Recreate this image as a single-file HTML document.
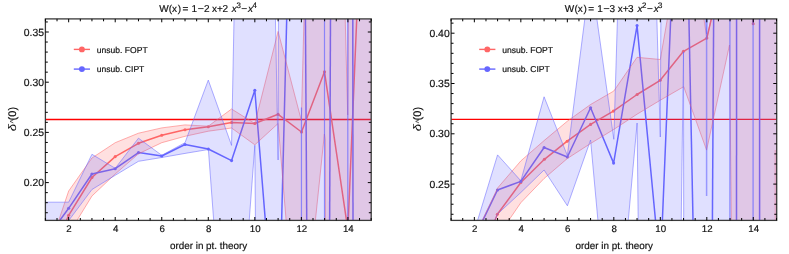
<!DOCTYPE html>
<html><head><meta charset="utf-8"><title>plots</title>
<style>
html,body{margin:0;padding:0;background:#fff;}
body{width:789px;height:254px;overflow:hidden;}
svg{display:block;}
text{stroke:#111;stroke-width:0.18px;}
svg{text-rendering:geometricPrecision;opacity:0.999;will-change:transform;font-family:"Liberation Sans",sans-serif;}
</style></head><body>
<svg width="789" height="254" viewBox="0 0 789 254">
<rect width="789" height="254" fill="#fff"/>
<clipPath id="c1"><rect x="45.4" y="18.9" width="325.8" height="201.5"/></clipPath><g clip-path="url(#c1)"><line x1="45.4" x2="371.2" y1="119.5" y2="119.5" stroke="#ff0000" stroke-width="1.3"/><polyline points="45.40,270.00 68.67,215.30 91.94,177.50 115.21,156.60 138.48,143.30 161.75,135.30 185.02,129.70 208.29,126.70 231.56,122.50 254.83,123.50 278.10,114.30 301.50,132.00 324.50,71.80 347.90,230.00 357.10,10.00" fill="none" stroke="#ff6666" stroke-width="1.5" stroke-opacity="1" stroke-linejoin="round"/><circle cx="45.40" cy="270.00" r="1.55" fill="#ff6666"/><circle cx="68.67" cy="215.30" r="1.55" fill="#ff6666"/><circle cx="91.94" cy="177.50" r="1.55" fill="#ff6666"/><circle cx="115.21" cy="156.60" r="1.55" fill="#ff6666"/><circle cx="138.48" cy="143.30" r="1.55" fill="#ff6666"/><circle cx="161.75" cy="135.30" r="1.55" fill="#ff6666"/><circle cx="185.02" cy="129.70" r="1.55" fill="#ff6666"/><circle cx="208.29" cy="126.70" r="1.55" fill="#ff6666"/><circle cx="231.56" cy="122.50" r="1.55" fill="#ff6666"/><circle cx="254.83" cy="123.50" r="1.55" fill="#ff6666"/><circle cx="278.10" cy="114.30" r="1.55" fill="#ff6666"/><circle cx="301.50" cy="132.00" r="1.55" fill="#ff6666"/><circle cx="324.50" cy="71.80" r="1.55" fill="#ff6666"/><circle cx="347.90" cy="230.00" r="1.55" fill="#ff6666"/><circle cx="357.10" cy="10.00" r="1.55" fill="#ff6666"/><polyline points="45.40,240.00 68.67,208.30 91.94,174.00 115.21,168.70 138.48,152.60 161.75,156.00 185.02,144.50 208.29,149.00 231.56,160.60 254.83,90.30 266.10,230.00" fill="none" stroke="#6666ff" stroke-width="1.5" stroke-opacity="1" stroke-linejoin="round"/><circle cx="45.40" cy="240.00" r="1.55" fill="#6666ff"/><circle cx="68.67" cy="208.30" r="1.55" fill="#6666ff"/><circle cx="91.94" cy="174.00" r="1.55" fill="#6666ff"/><circle cx="115.21" cy="168.70" r="1.55" fill="#6666ff"/><circle cx="138.48" cy="152.60" r="1.55" fill="#6666ff"/><circle cx="161.75" cy="156.00" r="1.55" fill="#6666ff"/><circle cx="185.02" cy="144.50" r="1.55" fill="#6666ff"/><circle cx="208.29" cy="149.00" r="1.55" fill="#6666ff"/><circle cx="231.56" cy="160.60" r="1.55" fill="#6666ff"/><circle cx="254.83" cy="90.30" r="1.55" fill="#6666ff"/><circle cx="266.10" cy="230.00" r="1.55" fill="#6666ff"/><polyline points="281.40,230.00 286.80,15.00" fill="none" stroke="#6666ff" stroke-width="1.5" stroke-opacity="1" stroke-linejoin="round"/><circle cx="281.40" cy="230.00" r="1.55" fill="#6666ff"/><circle cx="286.80" cy="15.00" r="1.55" fill="#6666ff"/><polyline points="305.40,15.00 306.80,230.00" fill="none" stroke="#6666ff" stroke-width="1.5" stroke-opacity="1" stroke-linejoin="round"/><circle cx="305.40" cy="15.00" r="1.55" fill="#6666ff"/><circle cx="306.80" cy="230.00" r="1.55" fill="#6666ff"/><polyline points="330.50,15.00 329.60,230.00" fill="none" stroke="#6666ff" stroke-width="1.5" stroke-opacity="1" stroke-linejoin="round"/><circle cx="330.50" cy="15.00" r="1.55" fill="#6666ff"/><circle cx="329.60" cy="230.00" r="1.55" fill="#6666ff"/><polyline points="352.80,15.00 353.00,230.00" fill="none" stroke="#6666ff" stroke-width="1.5" stroke-opacity="1" stroke-linejoin="round"/><circle cx="352.80" cy="15.00" r="1.55" fill="#6666ff"/><circle cx="353.00" cy="230.00" r="1.55" fill="#6666ff"/><polygon points="45.40,260.00 68.67,191.00 91.94,158.00 115.21,142.70 138.48,133.20 161.75,127.90 185.02,124.90 208.29,126.20 231.56,109.00 254.83,123.50 278.10,31.40 301.37,120.50 304.20,10.00 345.00,10.00 347.70,115.00 348.30,10.00 380.00,10.00 380.00,230.00 325.40,230.00 325.30,140.00 324.40,134.00 314.40,230.00 286.90,230.00 278.10,123.50 254.83,144.80 231.56,128.00 208.29,131.20 185.02,136.30 161.75,142.70 138.48,153.80 115.21,174.00 91.94,196.00 68.67,234.00 45.40,290.00" fill="#ff6666" fill-opacity="0.2" stroke="#ff6666" stroke-opacity="0.85" stroke-width="0.62" stroke-linejoin="round"/><polygon points="45.40,202.20 68.67,202.20 91.94,154.30 115.21,168.30 138.48,138.20 161.75,155.30 185.02,142.70 208.29,80.10 231.56,145.40 234.20,10.00 275.30,10.00 278.10,160.00 278.45,10.00 380.00,10.00 380.00,230.00 255.50,230.00 254.83,145.30 248.50,230.00 214.40,230.00 208.40,149.50 185.02,153.40 161.75,157.50 138.48,161.30 115.21,175.30 91.94,189.50 68.67,220.60 45.40,235.00" fill="#6666ff" fill-opacity="0.2" stroke="#6666ff" stroke-opacity="0.85" stroke-width="0.62" stroke-linejoin="round"/><polyline points="301.45,107.50 301.45,230.00" fill="none" stroke="#6666ff" stroke-width="1.2" stroke-opacity="0.7" stroke-linejoin="round"/><polyline points="324.50,10.00 324.50,230.00" fill="none" stroke="#6666ff" stroke-width="1.2" stroke-opacity="0.7" stroke-linejoin="round"/><polyline points="347.80,10.00 347.80,230.00" fill="none" stroke="#6666ff" stroke-width="1.2" stroke-opacity="0.7" stroke-linejoin="round"/></g><rect x="45.4" y="18.9" width="325.8" height="201.5" fill="none" stroke="#3a3a3a" stroke-width="1.3"/><g stroke="#000" stroke-width="1" fill="none"><path d="M68.67 220.4v-3.4M68.67 18.9v3.4"/><path d="M115.21 220.4v-3.4M115.21 18.9v3.4"/><path d="M161.75 220.4v-3.4M161.75 18.9v3.4"/><path d="M208.29 220.4v-3.4M208.29 18.9v3.4"/><path d="M254.83 220.4v-3.4M254.83 18.9v3.4"/><path d="M301.37 220.4v-3.4M301.37 18.9v3.4"/><path d="M347.91 220.4v-3.4M347.91 18.9v3.4"/><path d="M45.40 220.4v-2.4M45.40 18.9v2.4"/><path d="M57.03 220.4v-2.4M57.03 18.9v2.4"/><path d="M80.31 220.4v-2.4M80.31 18.9v2.4"/><path d="M91.94 220.4v-2.4M91.94 18.9v2.4"/><path d="M103.57 220.4v-2.4M103.57 18.9v2.4"/><path d="M126.84 220.4v-2.4M126.84 18.9v2.4"/><path d="M138.48 220.4v-2.4M138.48 18.9v2.4"/><path d="M150.12 220.4v-2.4M150.12 18.9v2.4"/><path d="M173.38 220.4v-2.4M173.38 18.9v2.4"/><path d="M185.02 220.4v-2.4M185.02 18.9v2.4"/><path d="M196.66 220.4v-2.4M196.66 18.9v2.4"/><path d="M219.93 220.4v-2.4M219.93 18.9v2.4"/><path d="M231.56 220.4v-2.4M231.56 18.9v2.4"/><path d="M243.19 220.4v-2.4M243.19 18.9v2.4"/><path d="M266.46 220.4v-2.4M266.46 18.9v2.4"/><path d="M278.10 220.4v-2.4M278.10 18.9v2.4"/><path d="M289.74 220.4v-2.4M289.74 18.9v2.4"/><path d="M313.00 220.4v-2.4M313.00 18.9v2.4"/><path d="M324.64 220.4v-2.4M324.64 18.9v2.4"/><path d="M336.27 220.4v-2.4M336.27 18.9v2.4"/><path d="M359.54 220.4v-2.4M359.54 18.9v2.4"/><path d="M371.18 220.4v-2.4M371.18 18.9v2.4"/><path d="M45.4 182.60h3.4M371.2 182.60h-3.4"/><path d="M45.4 132.40h3.4M371.2 132.40h-3.4"/><path d="M45.4 82.20h3.4M371.2 82.20h-3.4"/><path d="M45.4 32.00h3.4M371.2 32.00h-3.4"/><path d="M45.4 212.72h2.4M371.2 212.72h-2.4"/><path d="M45.4 202.68h2.4M371.2 202.68h-2.4"/><path d="M45.4 192.64h2.4M371.2 192.64h-2.4"/><path d="M45.4 172.56h2.4M371.2 172.56h-2.4"/><path d="M45.4 162.52h2.4M371.2 162.52h-2.4"/><path d="M45.4 152.48h2.4M371.2 152.48h-2.4"/><path d="M45.4 142.44h2.4M371.2 142.44h-2.4"/><path d="M45.4 122.36h2.4M371.2 122.36h-2.4"/><path d="M45.4 112.32h2.4M371.2 112.32h-2.4"/><path d="M45.4 102.28h2.4M371.2 102.28h-2.4"/><path d="M45.4 92.24h2.4M371.2 92.24h-2.4"/><path d="M45.4 72.16h2.4M371.2 72.16h-2.4"/><path d="M45.4 62.12h2.4M371.2 62.12h-2.4"/><path d="M45.4 52.08h2.4M371.2 52.08h-2.4"/><path d="M45.4 42.04h2.4M371.2 42.04h-2.4"/><path d="M45.4 21.96h2.4M371.2 21.96h-2.4"/></g><g font-size="9.7px" fill="#111"><text x="69.07" y="231.9" text-anchor="middle">2</text><text x="115.61" y="231.9" text-anchor="middle">4</text><text x="162.15" y="231.9" text-anchor="middle">6</text><text x="208.69" y="231.9" text-anchor="middle">8</text><text x="255.23" y="231.9" text-anchor="middle">10</text><text x="301.77" y="231.9" text-anchor="middle">12</text><text x="348.31" y="231.9" text-anchor="middle">14</text><text x="44.00" y="186.20" text-anchor="end" font-size="10.4px">0.20</text><text x="44.00" y="136.00" text-anchor="end" font-size="10.4px">0.25</text><text x="44.00" y="85.80" text-anchor="end" font-size="10.4px">0.30</text><text x="44.00" y="35.60" text-anchor="end" font-size="10.4px">0.35</text></g><text x="208.60" y="248.9" text-anchor="middle" font-size="9.9px" fill="#111">order in pt. theory</text><g font-size="10.0px" fill="#111"><text x="159.16" y="11.55">W</text><text x="168.80" y="11.55">(</text><text x="172.00" y="11.55">x</text><text x="177.75" y="11.55">)</text><text x="182.60" y="11.55">=</text><text x="191.55" y="11.55">1</text><text x="203.90" y="11.55">2</text><text x="212.10" y="11.55">x</text><text x="217.00" y="11.55">+</text><text x="222.40" y="11.55">2</text><text x="231.70" y="11.55" font-style="italic">x</text><text x="248.00" y="11.55" font-style="italic">x</text><text x="236.40" y="8.35" font-size="7.9px">3</text><text x="252.40" y="8.35" font-size="7.9px">4</text><rect x="198.10" y="8.25" width="5.5" height="0.8"/><rect x="241.60" y="8.25" width="5.2" height="0.8"/></g><g fill="#111" font-size="11px"><text transform="translate(15.60,131.3) rotate(-90) scale(1.2,1)" font-style="italic" style="stroke-width:0">δ</text><text transform="translate(15.60,120.4) rotate(-90)">(0)</text><polyline points="13.30,119.9 10.00,121.4 13.30,122.9" fill="none" stroke="#222" stroke-width="0.7"/></g><line x1="73.8" x2="90.0" y1="49.4" y2="49.4" stroke="#ff6666" stroke-width="1.4"/><circle cx="81.89999999999999" cy="49.4" r="2.95" fill="#ff6666"/><line x1="73.8" x2="90.0" y1="69.1" y2="69.1" stroke="#6666ff" stroke-width="1.4"/><circle cx="81.89999999999999" cy="69.1" r="2.95" fill="#6666ff"/><text x="96.80" y="52.6" font-size="8.55px" fill="#111">unsub. FOPT</text><text x="96.80" y="72.3" font-size="8.55px" fill="#111">unsub. CIPT</text><clipPath id="c2"><rect x="451.1" y="18.9" width="325.6" height="201.5"/></clipPath><g clip-path="url(#c2)"><line x1="451.1" x2="776.7" y1="119.4" y2="119.4" stroke="#ff0000" stroke-width="1.3"/><polyline points="451.10,330.00 474.35,272.00 497.40,214.30 520.80,182.50 544.40,159.30 567.20,141.20 590.60,124.40 613.40,111.10 637.10,94.50 660.20,80.30 683.50,51.30 706.85,38.10 713.40,10.00" fill="none" stroke="#ff6666" stroke-width="1.5" stroke-opacity="1" stroke-linejoin="round"/><circle cx="451.10" cy="330.00" r="1.55" fill="#ff6666"/><circle cx="474.35" cy="272.00" r="1.55" fill="#ff6666"/><circle cx="497.40" cy="214.30" r="1.55" fill="#ff6666"/><circle cx="520.80" cy="182.50" r="1.55" fill="#ff6666"/><circle cx="544.40" cy="159.30" r="1.55" fill="#ff6666"/><circle cx="567.20" cy="141.20" r="1.55" fill="#ff6666"/><circle cx="590.60" cy="124.40" r="1.55" fill="#ff6666"/><circle cx="613.40" cy="111.10" r="1.55" fill="#ff6666"/><circle cx="637.10" cy="94.50" r="1.55" fill="#ff6666"/><circle cx="660.20" cy="80.30" r="1.55" fill="#ff6666"/><circle cx="683.50" cy="51.30" r="1.55" fill="#ff6666"/><circle cx="706.85" cy="38.10" r="1.55" fill="#ff6666"/><circle cx="713.40" cy="10.00" r="1.55" fill="#ff6666"/><polyline points="752.90,10.00 753.20,23.80 753.50,10.00" fill="none" stroke="#ff6666" stroke-width="1.5" stroke-opacity="1" stroke-linejoin="round"/><circle cx="752.90" cy="10.00" r="1.55" fill="#ff6666"/><circle cx="753.20" cy="23.80" r="1.55" fill="#ff6666"/><circle cx="753.50" cy="10.00" r="1.55" fill="#ff6666"/><polyline points="451.10,290.00 474.35,237.90 497.50,190.00 520.80,181.40 544.10,147.50 567.35,157.00 590.60,107.70 613.60,163.10 637.05,25.60 660.30,271.00 671.05,10.00" fill="none" stroke="#6666ff" stroke-width="1.5" stroke-opacity="1" stroke-linejoin="round"/><circle cx="451.10" cy="290.00" r="1.55" fill="#6666ff"/><circle cx="474.35" cy="237.90" r="1.55" fill="#6666ff"/><circle cx="497.50" cy="190.00" r="1.55" fill="#6666ff"/><circle cx="520.80" cy="181.40" r="1.55" fill="#6666ff"/><circle cx="544.10" cy="147.50" r="1.55" fill="#6666ff"/><circle cx="567.35" cy="157.00" r="1.55" fill="#6666ff"/><circle cx="590.60" cy="107.70" r="1.55" fill="#6666ff"/><circle cx="613.60" cy="163.10" r="1.55" fill="#6666ff"/><circle cx="637.05" cy="25.60" r="1.55" fill="#6666ff"/><circle cx="660.30" cy="271.00" r="1.55" fill="#6666ff"/><circle cx="671.05" cy="10.00" r="1.55" fill="#6666ff"/><polyline points="688.75,10.00 693.20,230.00" fill="none" stroke="#6666ff" stroke-width="1.5" stroke-opacity="1" stroke-linejoin="round"/><circle cx="688.75" cy="10.00" r="1.55" fill="#6666ff"/><circle cx="693.20" cy="230.00" r="1.55" fill="#6666ff"/><polyline points="713.70,10.00 712.35,230.00" fill="none" stroke="#6666ff" stroke-width="1.5" stroke-opacity="1" stroke-linejoin="round"/><circle cx="713.70" cy="10.00" r="1.55" fill="#6666ff"/><circle cx="712.35" cy="230.00" r="1.55" fill="#6666ff"/><polyline points="736.60,10.00 736.50,230.00" fill="none" stroke="#6666ff" stroke-width="1.5" stroke-opacity="1" stroke-linejoin="round"/><circle cx="736.60" cy="10.00" r="1.55" fill="#6666ff"/><circle cx="736.50" cy="230.00" r="1.55" fill="#6666ff"/><polyline points="759.60,10.00 759.60,230.00" fill="none" stroke="#6666ff" stroke-width="1.5" stroke-opacity="1" stroke-linejoin="round"/><circle cx="759.60" cy="10.00" r="1.55" fill="#6666ff"/><circle cx="759.60" cy="230.00" r="1.55" fill="#6666ff"/><polygon points="451.10,290.00 474.35,237.00 497.59,188.00 520.84,160.90 544.08,140.60 567.33,121.20 590.57,104.50 613.82,91.00 637.06,57.30 660.31,59.50 668.90,10.00 702.60,10.00 706.80,38.00 713.40,10.00 790.00,10.00 790.00,230.00 731.40,230.00 729.50,45.00 706.60,150.10 683.70,86.70 660.31,100.20 637.06,114.20 613.82,129.40 590.57,143.50 567.33,158.50 544.08,178.50 520.84,202.70 497.59,236.60 474.35,290.00 451.10,340.00" fill="#ff6666" fill-opacity="0.2" stroke="#ff6666" stroke-opacity="0.85" stroke-width="0.62" stroke-linejoin="round"/><polyline points="775.20,150.00 775.20,230.00" fill="none" stroke="#ff6666" stroke-width="0.6" stroke-opacity="0.7" stroke-linejoin="round"/><polygon points="451.10,300.00 474.35,231.00 497.59,154.90 520.84,180.80 544.08,96.80 567.33,155.50 590.57,-26.00 613.82,139.30 617.70,10.00 656.60,10.00 660.31,137.00 660.90,10.00 704.50,10.00 706.60,34.00 707.50,10.00 790.00,10.00 790.00,230.00 683.70,230.00 683.50,52.00 681.10,230.00 638.30,230.00 637.10,123.00 627.40,230.00 598.80,230.00 590.57,140.00 567.40,205.80 544.08,170.00 520.84,192.50 497.59,214.00 474.35,270.00 451.10,330.00" fill="#6666ff" fill-opacity="0.2" stroke="#6666ff" stroke-opacity="0.85" stroke-width="0.62" stroke-linejoin="round"/><polyline points="706.60,10.00 706.60,196.00" fill="none" stroke="#6666ff" stroke-width="1.5" stroke-opacity="0.6" stroke-linejoin="round"/><polyline points="729.90,10.00 729.90,230.00" fill="none" stroke="#6666ff" stroke-width="1.5" stroke-opacity="0.6" stroke-linejoin="round"/><polyline points="753.10,10.00 753.10,230.00" fill="none" stroke="#6666ff" stroke-width="1.5" stroke-opacity="0.6" stroke-linejoin="round"/></g><rect x="451.1" y="18.9" width="325.6" height="201.5" fill="none" stroke="#3a3a3a" stroke-width="1.3"/><g stroke="#000" stroke-width="1" fill="none"><path d="M474.35 220.4v-3.4M474.35 18.9v3.4"/><path d="M520.84 220.4v-3.4M520.84 18.9v3.4"/><path d="M567.33 220.4v-3.4M567.33 18.9v3.4"/><path d="M613.82 220.4v-3.4M613.82 18.9v3.4"/><path d="M660.31 220.4v-3.4M660.31 18.9v3.4"/><path d="M706.80 220.4v-3.4M706.80 18.9v3.4"/><path d="M753.29 220.4v-3.4M753.29 18.9v3.4"/><path d="M451.10 220.4v-2.4M451.10 18.9v2.4"/><path d="M462.72 220.4v-2.4M462.72 18.9v2.4"/><path d="M485.97 220.4v-2.4M485.97 18.9v2.4"/><path d="M497.59 220.4v-2.4M497.59 18.9v2.4"/><path d="M509.21 220.4v-2.4M509.21 18.9v2.4"/><path d="M532.46 220.4v-2.4M532.46 18.9v2.4"/><path d="M544.08 220.4v-2.4M544.08 18.9v2.4"/><path d="M555.70 220.4v-2.4M555.70 18.9v2.4"/><path d="M578.95 220.4v-2.4M578.95 18.9v2.4"/><path d="M590.57 220.4v-2.4M590.57 18.9v2.4"/><path d="M602.19 220.4v-2.4M602.19 18.9v2.4"/><path d="M625.44 220.4v-2.4M625.44 18.9v2.4"/><path d="M637.06 220.4v-2.4M637.06 18.9v2.4"/><path d="M648.68 220.4v-2.4M648.68 18.9v2.4"/><path d="M671.93 220.4v-2.4M671.93 18.9v2.4"/><path d="M683.55 220.4v-2.4M683.55 18.9v2.4"/><path d="M695.17 220.4v-2.4M695.17 18.9v2.4"/><path d="M718.42 220.4v-2.4M718.42 18.9v2.4"/><path d="M730.04 220.4v-2.4M730.04 18.9v2.4"/><path d="M741.66 220.4v-2.4M741.66 18.9v2.4"/><path d="M764.91 220.4v-2.4M764.91 18.9v2.4"/><path d="M776.53 220.4v-2.4M776.53 18.9v2.4"/><path d="M451.1 184.10h3.4M776.7 184.10h-3.4"/><path d="M451.1 133.80h3.4M776.7 133.80h-3.4"/><path d="M451.1 83.50h3.4M776.7 83.50h-3.4"/><path d="M451.1 33.20h3.4M776.7 33.20h-3.4"/><path d="M451.1 214.28h2.4M776.7 214.28h-2.4"/><path d="M451.1 204.22h2.4M776.7 204.22h-2.4"/><path d="M451.1 194.16h2.4M776.7 194.16h-2.4"/><path d="M451.1 174.04h2.4M776.7 174.04h-2.4"/><path d="M451.1 163.98h2.4M776.7 163.98h-2.4"/><path d="M451.1 153.92h2.4M776.7 153.92h-2.4"/><path d="M451.1 143.86h2.4M776.7 143.86h-2.4"/><path d="M451.1 123.74h2.4M776.7 123.74h-2.4"/><path d="M451.1 113.68h2.4M776.7 113.68h-2.4"/><path d="M451.1 103.62h2.4M776.7 103.62h-2.4"/><path d="M451.1 93.56h2.4M776.7 93.56h-2.4"/><path d="M451.1 73.44h2.4M776.7 73.44h-2.4"/><path d="M451.1 63.38h2.4M776.7 63.38h-2.4"/><path d="M451.1 53.32h2.4M776.7 53.32h-2.4"/><path d="M451.1 43.26h2.4M776.7 43.26h-2.4"/><path d="M451.1 23.14h2.4M776.7 23.14h-2.4"/></g><g font-size="9.7px" fill="#111"><text x="474.75" y="231.9" text-anchor="middle">2</text><text x="521.24" y="231.9" text-anchor="middle">4</text><text x="567.73" y="231.9" text-anchor="middle">6</text><text x="614.22" y="231.9" text-anchor="middle">8</text><text x="660.71" y="231.9" text-anchor="middle">10</text><text x="707.20" y="231.9" text-anchor="middle">12</text><text x="753.69" y="231.9" text-anchor="middle">14</text><text x="449.70" y="187.70" text-anchor="end" font-size="10.4px">0.25</text><text x="449.70" y="137.40" text-anchor="end" font-size="10.4px">0.30</text><text x="449.70" y="87.10" text-anchor="end" font-size="10.4px">0.35</text><text x="449.70" y="36.80" text-anchor="end" font-size="10.4px">0.40</text></g><text x="614.20" y="248.9" text-anchor="middle" font-size="9.9px" fill="#111">order in pt. theory</text><g font-size="10.0px" fill="#111"><text x="564.86" y="11.55">W</text><text x="574.50" y="11.55">(</text><text x="577.70" y="11.55">x</text><text x="583.45" y="11.55">)</text><text x="588.30" y="11.55">=</text><text x="597.25" y="11.55">1</text><text x="609.60" y="11.55">3</text><text x="617.80" y="11.55">x</text><text x="622.70" y="11.55">+</text><text x="628.10" y="11.55">3</text><text x="637.40" y="11.55" font-style="italic">x</text><text x="653.70" y="11.55" font-style="italic">x</text><text x="642.10" y="8.35" font-size="7.9px">2</text><text x="658.10" y="8.35" font-size="7.9px">3</text><rect x="603.80" y="8.25" width="5.5" height="0.8"/><rect x="647.30" y="8.25" width="5.2" height="0.8"/></g><g fill="#111" font-size="11px"><text transform="translate(421.30,131.3) rotate(-90) scale(1.2,1)" font-style="italic" style="stroke-width:0">δ</text><text transform="translate(421.30,120.4) rotate(-90)">(0)</text><polyline points="419.00,119.9 415.70,121.4 419.00,122.9" fill="none" stroke="#222" stroke-width="0.7"/></g><line x1="479.2" x2="495.4" y1="49.4" y2="49.4" stroke="#ff6666" stroke-width="1.4"/><circle cx="487.3" cy="49.4" r="2.95" fill="#ff6666"/><line x1="479.2" x2="495.4" y1="69.1" y2="69.1" stroke="#6666ff" stroke-width="1.4"/><circle cx="487.3" cy="69.1" r="2.95" fill="#6666ff"/><text x="502.20" y="52.6" font-size="8.55px" fill="#111">unsub. FOPT</text><text x="502.20" y="72.3" font-size="8.55px" fill="#111">unsub. CIPT</text>
</svg>
</body></html>
